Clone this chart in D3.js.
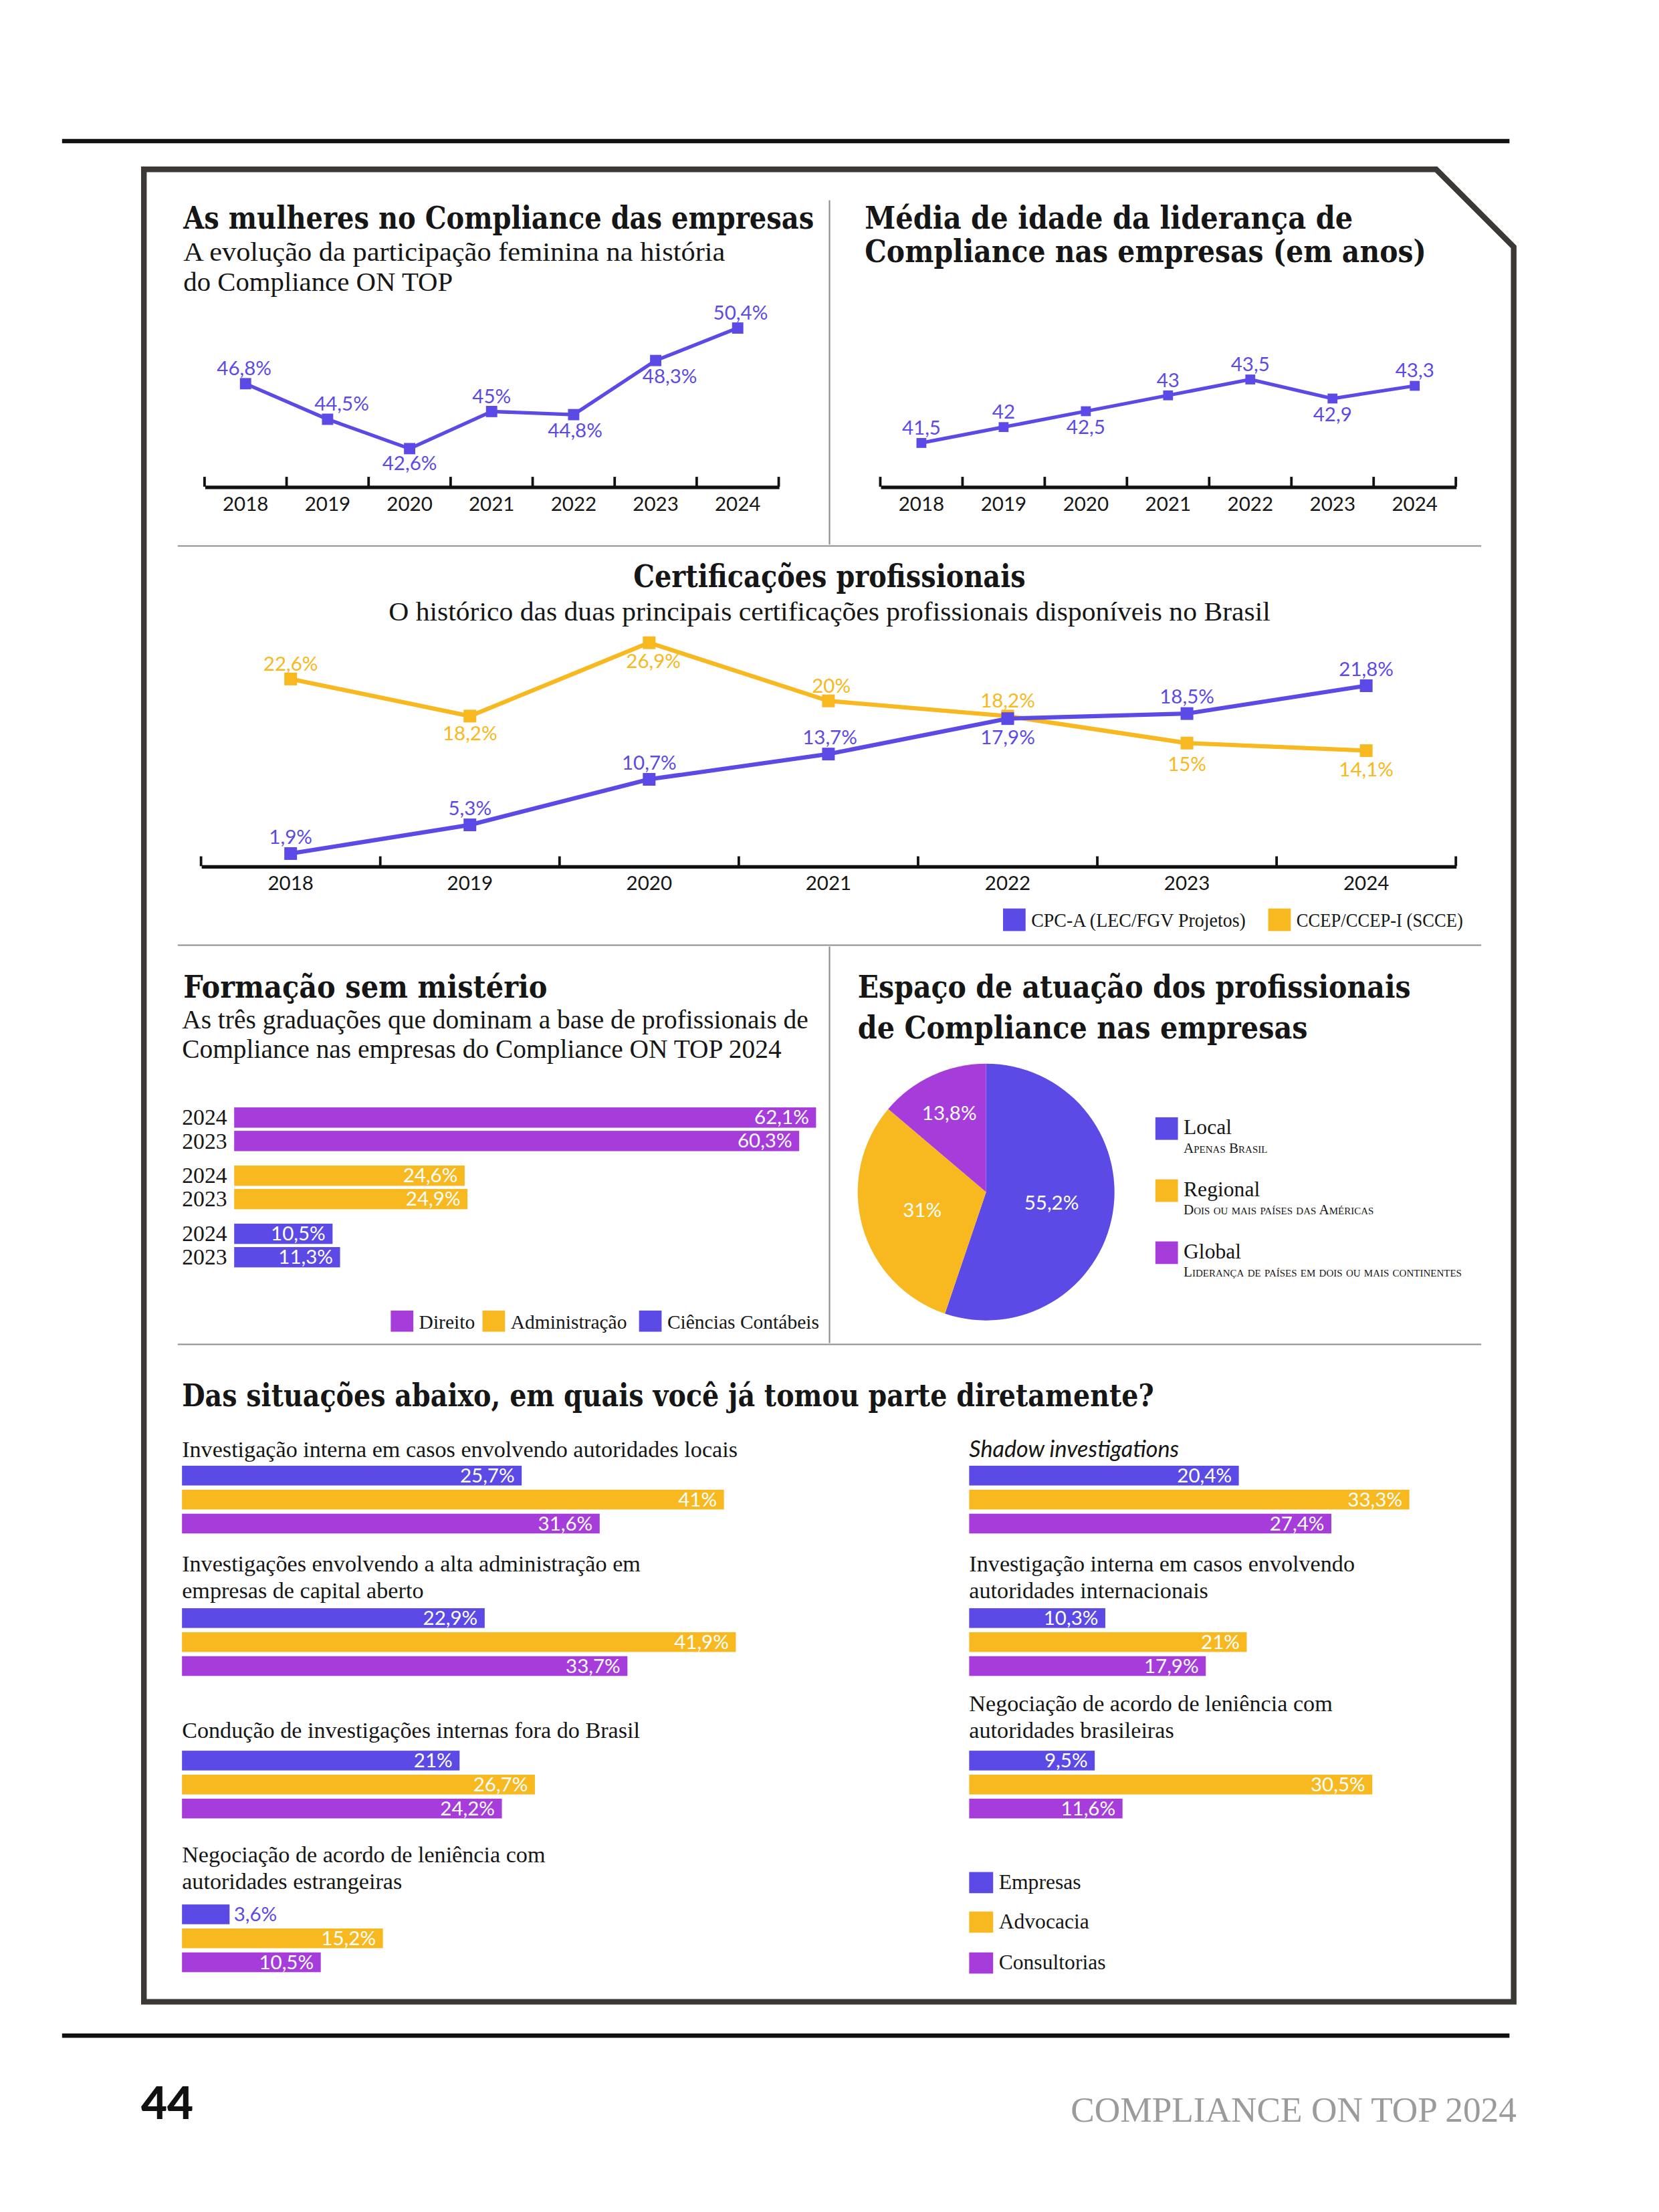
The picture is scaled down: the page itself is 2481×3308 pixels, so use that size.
<!DOCTYPE html>
<html>
<head>
<meta charset="utf-8">
<script src="https://cdn.jsdelivr.net/npm/d3@7"></script>
<style>
  html, body { margin: 0; padding: 0; background: #fff; }
  svg { display: block; }
</style>
</head>
<body>
<svg id="page"></svg>
<script>
// ---- data ----
var years = ["2018", "2019", "2020", "2021", "2022", "2023", "2024"];
var mulheres = [46.8, 44.5, 42.6, 45, 44.8, 48.3, 50.4];
var idade = [41.5, 42, 42.5, 43, 43.5, 42.9, 43.3];
var certSeries = ["CPC-A (LEC/FGV Projetos)", "CCEP/CCEP-I (SCCE)"];
var cpca = [1.9, 5.3, 10.7, 13.7, 17.9, 18.5, 21.8];
var ccep = [22.6, 18.2, 26.9, 20, 18.2, 15, 14.1];
var cursos = ["Direito", "Administração", "Ciências Contábeis"];
var formYears = ["2024", "2023"];
var formacao2024 = [62.1, 24.6, 10.5];
var formacao2023 = [60.3, 24.9, 11.3];
var espacos = ["Local", "Regional", "Global"];
var espacosSub = ["Apenas Brasil", "Dois ou mais países das Américas", "Liderança de países em dois ou mais continentes"];
var espacoValues = [55.2, 31, 13.8];
var setores = ["Empresas", "Advocacia", "Consultorias"];
var situacoes = [
  ["Investigação interna em casos envolvendo autoridades locais"],
  ["Investigações envolvendo a alta administração em", "empresas de capital aberto"],
  ["Condução de investigações internas fora do Brasil"],
  ["Negociação de acordo de leniência com", "autoridades estrangeiras"],
  ["Shadow investigations"],
  ["Investigação interna em casos envolvendo", "autoridades internacionais"],
  ["Negociação de acordo de leniência com", "autoridades brasileiras"]
];
var empresas = [25.7, 22.9, 21, 3.6, 20.4, 10.3, 9.5];
var advocacia = [41, 41.9, 26.7, 15.2, 33.3, 21, 30.5];
var consultorias = [31.6, 33.7, 24.2, 10.5, 27.4, 17.9, 11.6];

// ---- setup ----
// page is laid out in a 1176 x 1568 coordinate space, scaled up to the window
var W = 1176, H = 1568;
var BLUE = "#5c4ae6", YELLOW = "#f8b820", PURPLE = "#a63ddb", INK = "#161616";
var SLAB = '"DejaVu Serif", serif', SERIF = '"Liberation Serif", serif', SANS = 'Lato, sans-serif';
var fmt = function(v) { return String(v).replace(".", ","); };

var svg = d3.select("#page")
  .attr("width", 2481).attr("height", 3308)
  .attr("viewBox", "0 0 " + W + " " + H)
  .attr("preserveAspectRatio", "none");

function addText(parent, x, y, str, o) {
  o = o || {};
  var t = parent.append("text").attr("x", x).attr("y", y).text(str)
    .attr("font-family", o.font || SERIF)
    .attr("font-size", o.size || 16)
    .attr("fill", o.fill || INK)
    .attr("text-anchor", o.anchor || "start");
  if (o.weight) t.attr("font-weight", o.weight);
  if (o.italic) t.attr("font-style", "italic");
  if (o.variant) t.style("font-variant", o.variant);
  if (o.fit) t.attr("textLength", o.fit).attr("lengthAdjust", "spacingAndGlyphs");
  return t;
}
function title(x, y, str, w, anchor) {
  return addText(svg, x, y, str, {font: SLAB, size: 22, weight: "bold", fit: w, anchor: anchor});
}
function subtitle(x, y, str, w, anchor) {
  return addText(svg, x, y, str, {size: 18.5, fit: w, anchor: anchor});
}
function rule(x1, y1, x2, y2, color, width) {
  svg.append("line").attr("x1", x1).attr("y1", y1).attr("x2", x2).attr("y2", y2)
    .attr("stroke", color).attr("stroke-width", width);
}

// ---- page frame ----
rule(44, 100, 1070, 100, "#111", 3);
rule(44, 1443, 1070, 1443, "#111", 3);
svg.append("path").attr("d", "M102,120 H1018 L1073,175 V1419 H102 Z")
  .attr("fill", "none").attr("stroke", "#3b3835").attr("stroke-width", 4);
rule(588, 142, 588, 386, "#8c8c8c", 1);
rule(126, 387, 1050, 387, "#8c8c8c", 1);
rule(126, 670, 1050, 670, "#8c8c8c", 1);
rule(588, 671, 588, 952, "#8c8c8c", 1);
rule(126, 953, 1050, 953, "#8c8c8c", 1);
addText(svg, 100, 1502, "44", {font: SANS, size: 32, weight: 900, fill: "#111"});
addText(svg, 1075, 1504, "COMPLIANCE ON TOP 2024", {font: SERIF, size: 25, fill: "#9b9b9b", anchor: "end", fit: 316});

// ---- line chart helper ----
function lineChart(o) {
  var g = svg.append("g");
  var x = d3.scaleBand().domain(years).range([o.x0, o.x1]);
  var y = d3.scaleLinear().domain(o.domain).range(o.range);
  var axis = g.append("g").attr("transform", "translate(0," + o.axisY + ")")
    .call(d3.axisBottom(x).tickSize(0).tickPadding(7));
  axis.select(".domain").attr("stroke", "#111").attr("stroke-width", 2.5);
  axis.selectAll("text").attr("font-family", SANS).attr("font-size", 14).attr("fill", INK);
  var edges = years.map(function(d) { return x(d); }).concat([o.x1]);
  g.selectAll(".edge").data(edges).enter().append("line")
    .attr("x1", function(d) { return d; }).attr("x2", function(d) { return d; })
    .attr("y1", o.axisY - 7).attr("y2", o.axisY)
    .attr("stroke", "#111").attr("stroke-width", 1.8);

  o.series.forEach(function(s) {
    var pts = years.map(function(yr, i) { return {year: yr, v: s.values[i], off: s.offsets[i]}; });
    var cx = function(d) { return x(d.year) + x.bandwidth() / 2; };
    g.append("path").datum(pts)
      .attr("d", d3.line().x(cx).y(function(d) { return y(d.v); }))
      .attr("fill", "none").attr("stroke", s.color).attr("stroke-width", o.lw);
    g.selectAll(null).data(pts).enter().append("rect")
      .attr("x", function(d) { return cx(d) - o.ms / 2; })
      .attr("y", function(d) { return y(d.v) - o.ms / 2; })
      .attr("width", o.ms).attr("height", o.ms).attr("fill", s.color);
    g.selectAll(null).data(pts).enter().append("text")
      .attr("x", function(d) { return cx(d) + d.off[0]; })
      .attr("y", function(d) { return y(d.v) + d.off[1]; })
      .attr("text-anchor", "middle")
      .attr("font-family", SANS).attr("font-size", 14).attr("fill", s.color)
      .text(function(d) { return fmt(d.v) + (o.pct ? "%" : ""); });
  });
}

// ---- section 1: mulheres ----
title(130, 162, "As mulheres no Compliance das empresas", 447);
subtitle(130, 185, "A evolução da participação feminina na história", 384);
subtitle(130, 206, "do Compliance ON TOP", 191);
lineChart({
  x0: 145, x1: 552, axisY: 345, domain: [40, 52], range: [346.5, 215], lw: 2.5, ms: 8, pct: true,
  series: [{values: mulheres, color: BLUE,
    offsets: [[-1, -6], [10, -6], [0, 15], [0, -6], [1, 16], [10, 16], [2, -6]]}]
});

// ---- section 2: idade ----
title(613, 162, "Média de idade da liderança de", 346);
title(613, 186, "Compliance nas empresas (em anos)", 398);
lineChart({
  x0: 624, x1: 1032, axisY: 345, domain: [40, 44], range: [347.75, 257.75], lw: 2.5, ms: 7, pct: false,
  series: [{values: idade, color: BLUE,
    offsets: [[0, -6], [0, -6], [0, 16], [0, -6], [0, -6], [0, 16], [0, -6]]}]
});

// ---- section 3: certificações ----
title(588, 416, "Certificações profissionais", 278, "middle");
subtitle(588, 440, "O histórico das duas principais certificações profissionais disponíveis no Brasil", 625, "middle");
lineChart({
  x0: 142.5, x1: 1032, axisY: 614, domain: [0, 27], range: [616.4, 455], lw: 3, ms: 9, pct: true,
  series: [
    {values: ccep, color: YELLOW,
      offsets: [[0, -6], [0, 17], [3, 18], [2, -6], [0, -6], [0, 20], [0, 18]]},
    {values: cpca, color: BLUE,
      offsets: [[0, -7], [0, -7], [0, -7], [1, -7], [0, 18], [0, -7], [0, -7]]}
  ]
});
var certLeg = svg.append("g");
[{x: 711, c: BLUE}, {x: 899, c: YELLOW}].forEach(function(l, i) {
  certLeg.append("rect").attr("x", l.x).attr("y", 644).attr("width", 16).attr("height", 16).attr("fill", l.c);
  addText(certLeg, l.x + 20, 657, certSeries[i], {size: 14, fit: i === 0 ? 152 : 118});
});

// ---- section 4: formação ----
title(130, 707, "Formação sem mistério", 258);
subtitle(129, 729, "As três graduações que dominam a base de profissionais de", 444);
subtitle(129, 750, "Compliance nas empresas do Compliance ON TOP 2024", 425);
var fx = d3.scaleLinear().domain([0, 100]).range([166, 166 + 664.2]);
var fg = d3.scaleBand().domain(cursos).range([785, 785 + 3 * 41.2]);
var fi = d3.scaleBand().domain(formYears).range([0, 31]).paddingInner(0.133);
var fcol = d3.scaleOrdinal().domain(cursos).range([PURPLE, YELLOW, BLUE]);
var formRows = [];
cursos.forEach(function(c, i) {
  formRows.push({curso: c, ano: "2024", v: formacao2024[i]});
  formRows.push({curso: c, ano: "2023", v: formacao2023[i]});
});
var fRow = svg.selectAll(".frow").data(formRows).enter().append("g")
  .attr("transform", function(d) { return "translate(0," + (fg(d.curso) + fi(d.ano)) + ")"; });
fRow.append("rect").attr("x", fx(0)).attr("y", 0)
  .attr("width", function(d) { return fx(d.v) - fx(0); }).attr("height", fi.bandwidth())
  .attr("fill", function(d) { return fcol(d.curso); });
fRow.append("text").attr("x", 129).attr("y", 12.5).text(function(d) { return d.ano; })
  .attr("font-family", SERIF).attr("font-size", 16).attr("fill", INK);
fRow.append("text").attr("x", function(d) { return fx(d.v) - 5; }).attr("y", 12)
  .attr("text-anchor", "end").attr("font-family", SANS).attr("font-size", 14).attr("fill", "#fff")
  .text(function(d) { return fmt(d.v) + "%"; });
var fLegX = [277, 342, 453];
cursos.forEach(function(c, i) {
  svg.append("rect").attr("x", fLegX[i]).attr("y", 929).attr("width", 16).attr("height", 15).attr("fill", fcol(c));
  addText(svg, fLegX[i] + 20, 942, c, {size: 14});
});

// ---- section 5: espaço (pie) ----
title(608, 707, "Espaço de atuação dos profissionais", 392);
title(608, 736, "de Compliance nas empresas", 319);
var pieCol = [BLUE, YELLOW, PURPLE];
var pie = d3.pie().sort(null).value(function(d) { return d; });
var arc = d3.arc().innerRadius(0).outerRadius(91);
var pg = svg.append("g").attr("transform", "translate(699,845)");
var slices = pie(espacoValues);
pg.selectAll("path").data(slices).enter().append("path")
  .attr("d", arc).attr("fill", function(d, i) { return pieCol[i]; });
pg.selectAll("text").data(slices).enter().append("text")
  .attr("transform", function(d) {
    var r = d.value < 20 ? 62 : 47;
    var c = d3.arc().innerRadius(r).outerRadius(r).centroid(d);
    return "translate(" + c[0] + "," + (c[1] + 5) + ")";
  })
  .attr("text-anchor", "middle").attr("font-family", SANS).attr("font-size", 14).attr("fill", "#fff")
  .text(function(d) { return fmt(d.value) + "%"; });
espacos.forEach(function(e, i) {
  var y0 = 792 + i * 44;
  svg.append("rect").attr("x", 819).attr("y", y0).attr("width", 16).attr("height", 16).attr("fill", pieCol[i]);
  addText(svg, 839, y0 + 12, e, {size: 15});
  addText(svg, 839, y0 + 25, espacosSub[i], {size: 10, variant: "small-caps"});
});

// ---- section 6: situações ----
title(129, 997, "Das situações abaixo, em quais você já tomou parte diretamente?", 689);
var slots = [
  {x: 129, y: 1033, bar: 1039}, {x: 129, y: 1114, bar: 1140}, {x: 129, y: 1232, bar: 1241}, {x: 129, y: 1320, bar: 1350},
  {x: 687, y: 1033, bar: 1039}, {x: 687, y: 1114, bar: 1140}, {x: 687, y: 1213, bar: 1241}
];
var sx = d3.scaleLinear().domain([0, 100]).range([0, 937]);
var sb = d3.scaleBand().domain(setores).range([0, 48]).paddingInner(0.1765);
var scol = d3.scaleOrdinal().domain(setores).range([BLUE, YELLOW, PURPLE]);
situacoes.forEach(function(lines, i) {
  var s = slots[i];
  var g = svg.append("g").attr("transform", "translate(" + s.x + ",0)");
  lines.forEach(function(line, k) {
    var italic = line === "Shadow investigations";
    addText(g, 0, s.y + k * 19, line, {size: 16.2, font: italic ? SANS : SERIF, italic: italic});
  });
  var vals = [empresas[i], advocacia[i], consultorias[i]];
  var rows = g.selectAll(".b").data(setores.map(function(st, j) { return {setor: st, v: vals[j]}; }))
    .enter().append("g").attr("transform", function(d) { return "translate(0," + (s.bar + sb(d.setor)) + ")"; });
  rows.append("rect").attr("width", function(d) { return sx(d.v); }).attr("height", sb.bandwidth())
    .attr("fill", function(d) { return scol(d.setor); });
  rows.append("text")
    .attr("x", function(d) { return sx(d.v) < 40 ? sx(d.v) + 3 : sx(d.v) - 5; })
    .attr("y", 12)
    .attr("text-anchor", function(d) { return sx(d.v) < 40 ? "start" : "end"; })
    .attr("font-family", SANS).attr("font-size", 14)
    .attr("fill", function(d) { return sx(d.v) < 40 ? scol(d.setor) : "#fff"; })
    .text(function(d) { return fmt(d.v) + "%"; });
});
setores.forEach(function(st, i) {
  var y0 = [1327, 1355, 1384][i];
  svg.append("rect").attr("x", 687).attr("y", y0).attr("width", 17).attr("height", 15).attr("fill", scol(st));
  addText(svg, 708, y0 + 12, st, {size: 15});
});
</script>
</body>
</html>
